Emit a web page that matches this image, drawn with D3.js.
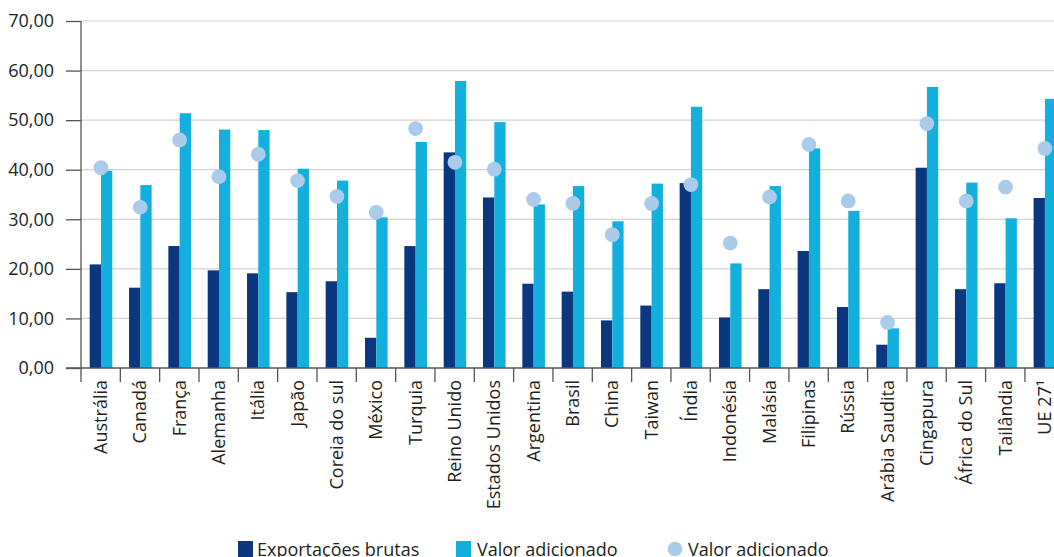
<!DOCTYPE html>
<html>
<head>
<meta charset="utf-8">
<script src="https://cdn.jsdelivr.net/npm/d3@7"></script>
<style>
  body { margin: 0; background: #fff; }
  svg { display: block; font-family: "Open Sans", sans-serif; }
</style>
</head>
<body>
<svg id="chart" width="1054" height="557"></svg>
<script>
var countries = ["Austrália", "Canadá", "França", "Alemanha", "Itália", "Japão", "Coreia do sul",
  "México", "Turquia", "Reino Unido", "Estados Unidos", "Argentina", "Brasil", "China", "Taiwan",
  "Índia", "Indonésia", "Malásia", "Filipinas", "Rússia", "Arábia Saudita", "Cingapura",
  "África do Sul", "Tailândia", "UE 27¹"];

var exportacoes = [20.9, 16.2, 24.6, 19.7, 19.1, 15.3, 17.5, 6.1, 24.6, 43.5, 34.4, 17.0, 15.4,
  9.6, 12.6, 37.3, 10.2, 15.9, 23.6, 12.3, 4.7, 40.4, 15.9, 17.1, 34.3];

var valorBarra = [39.8, 36.9, 51.4, 48.1, 48.0, 40.2, 37.8, 30.4, 45.6, 57.9, 49.6, 33.0, 36.7,
  29.6, 37.2, 52.7, 21.1, 36.7, 44.3, 31.7, 8.0, 56.7, 37.4, 30.2, 54.3];

var valorPonto = [40.4, 32.4, 46.0, 38.6, 43.1, 37.8, 34.6, 31.4, 48.3, 41.5, 40.1, 34.0, 33.2,
  26.9, 33.2, 37.0, 25.2, 34.5, 45.1, 33.7, 9.2, 49.3, 33.7, 36.5, 44.3];

var yTicks = [0, 10, 20, 30, 40, 50, 60, 70];

var series = ["Exportações brutas", "Valor adicionado"];
var colors = ["#0b377e", "#13b0de"];
var dotColor = "#abcbeb";

var svg = d3.select("#chart"),
    marginLeft = 81, marginTop = 21, baseY = 368,
    band = 39.33;

var data = countries.map(function(c, i) {
  return { name: c, values: [exportacoes[i], valorBarra[i]], dot: valorPonto[i] };
});

var x = d3.scaleBand()
    .domain(countries)
    .range([marginLeft, marginLeft + band * countries.length])
    .paddingInner(0);

var x1 = d3.scaleBand()
    .domain(series)
    .range([8.7, 31.3]);

var y = d3.scaleLinear()
    .domain([0, 70])
    .range([baseY, marginTop]);

var fmt = function(d) { return d3.format(".2f")(d).replace(".", ","); };

// grid
svg.append("g")
  .selectAll("line")
  .data(yTicks.slice(1))
  .enter().append("line")
    .attr("x1", marginLeft).attr("x2", 1054)
    .attr("y1", function(d) { return y(d); })
    .attr("y2", function(d) { return y(d); })
    .attr("stroke", "#d3d3d3")
    .attr("stroke-width", 1.2);

// bars
var groups = svg.append("g")
  .selectAll("g")
  .data(data)
  .enter().append("g")
    .attr("transform", function(d) { return "translate(" + x(d.name) + ",0)"; });

groups.selectAll("rect")
  .data(function(d) { return d.values.map(function(v, i) { return { key: series[i], value: v, i: i }; }); })
  .enter().append("rect")
    .attr("x", function(d) { return x1(d.key); })
    .attr("width", x1.bandwidth())
    .attr("y", function(d) { return y(d.value); })
    .attr("height", function(d) { return y(0) - y(d.value); })
    .attr("fill", function(d) { return colors[d.i]; });

groups.append("circle")
    .attr("cx", band / 2 + 0.3)
    .attr("cy", function(d) { return y(d.dot); })
    .attr("r", 7.4)
    .attr("fill", dotColor);

// y axis
var yAxis = svg.append("g")
    .attr("transform", "translate(" + marginLeft + ",0)")
    .call(d3.axisLeft(y).tickValues(yTicks).tickFormat(fmt).tickSize(15).tickPadding(12));
yAxis.select(".domain").remove();
yAxis.selectAll(".tick line").attr("stroke", "#555").attr("stroke-width", 1.3);
yAxis.selectAll(".tick text")
    .attr("font-size", 18)
    .attr("font-family", "Open Sans, sans-serif")
    .attr("fill", "#231f20");

svg.append("line")
    .attr("x1", marginLeft).attr("x2", marginLeft)
    .attr("y1", marginTop).attr("y2", baseY + 14)
    .attr("stroke", "#555").attr("stroke-width", 1.3);

svg.append("line")
    .attr("x1", marginLeft - 15).attr("x2", 1054)
    .attr("y1", baseY).attr("y2", baseY)
    .attr("stroke", "#555").attr("stroke-width", 1.3);

// category ticks
svg.append("g")
  .selectAll("line")
  .data(countries.slice(1))
  .enter().append("line")
    .attr("x1", function(d) { return x(d); })
    .attr("x2", function(d) { return x(d); })
    .attr("y1", baseY).attr("y2", baseY + 14)
    .attr("stroke", "#555").attr("stroke-width", 1.3);

// category labels
svg.append("g")
  .selectAll("text")
  .data(countries)
  .enter().append("text")
    .attr("transform", function(d) {
      return "translate(" + (x(d) + x.bandwidth() / 2) + "," + (baseY + 12) + ") rotate(-90)";
    })
    .attr("dy", "0.36em")
    .attr("text-anchor", "end")
    .attr("font-size", 18)
    .attr("fill", "#231f20")
    .text(function(d) { return d; });

// legend
var legend = svg.append("g").attr("font-size", 18).attr("fill", "#231f20");

legend.append("rect").attr("x", 238).attr("y", 541).attr("width", 15).attr("height", 16).attr("fill", colors[0]);
legend.append("text").attr("x", 257).attr("y", 556).text(series[0]);

legend.append("rect").attr("x", 456).attr("y", 541).attr("width", 15).attr("height", 16).attr("fill", colors[1]);
legend.append("text").attr("x", 477).attr("y", 556).text(series[1]);

legend.append("circle").attr("cx", 675).attr("cy", 549).attr("r", 7.3).attr("fill", dotColor);
legend.append("text").attr("x", 688).attr("y", 556).text("Valor adicionado");
</script>
</body>
</html>
